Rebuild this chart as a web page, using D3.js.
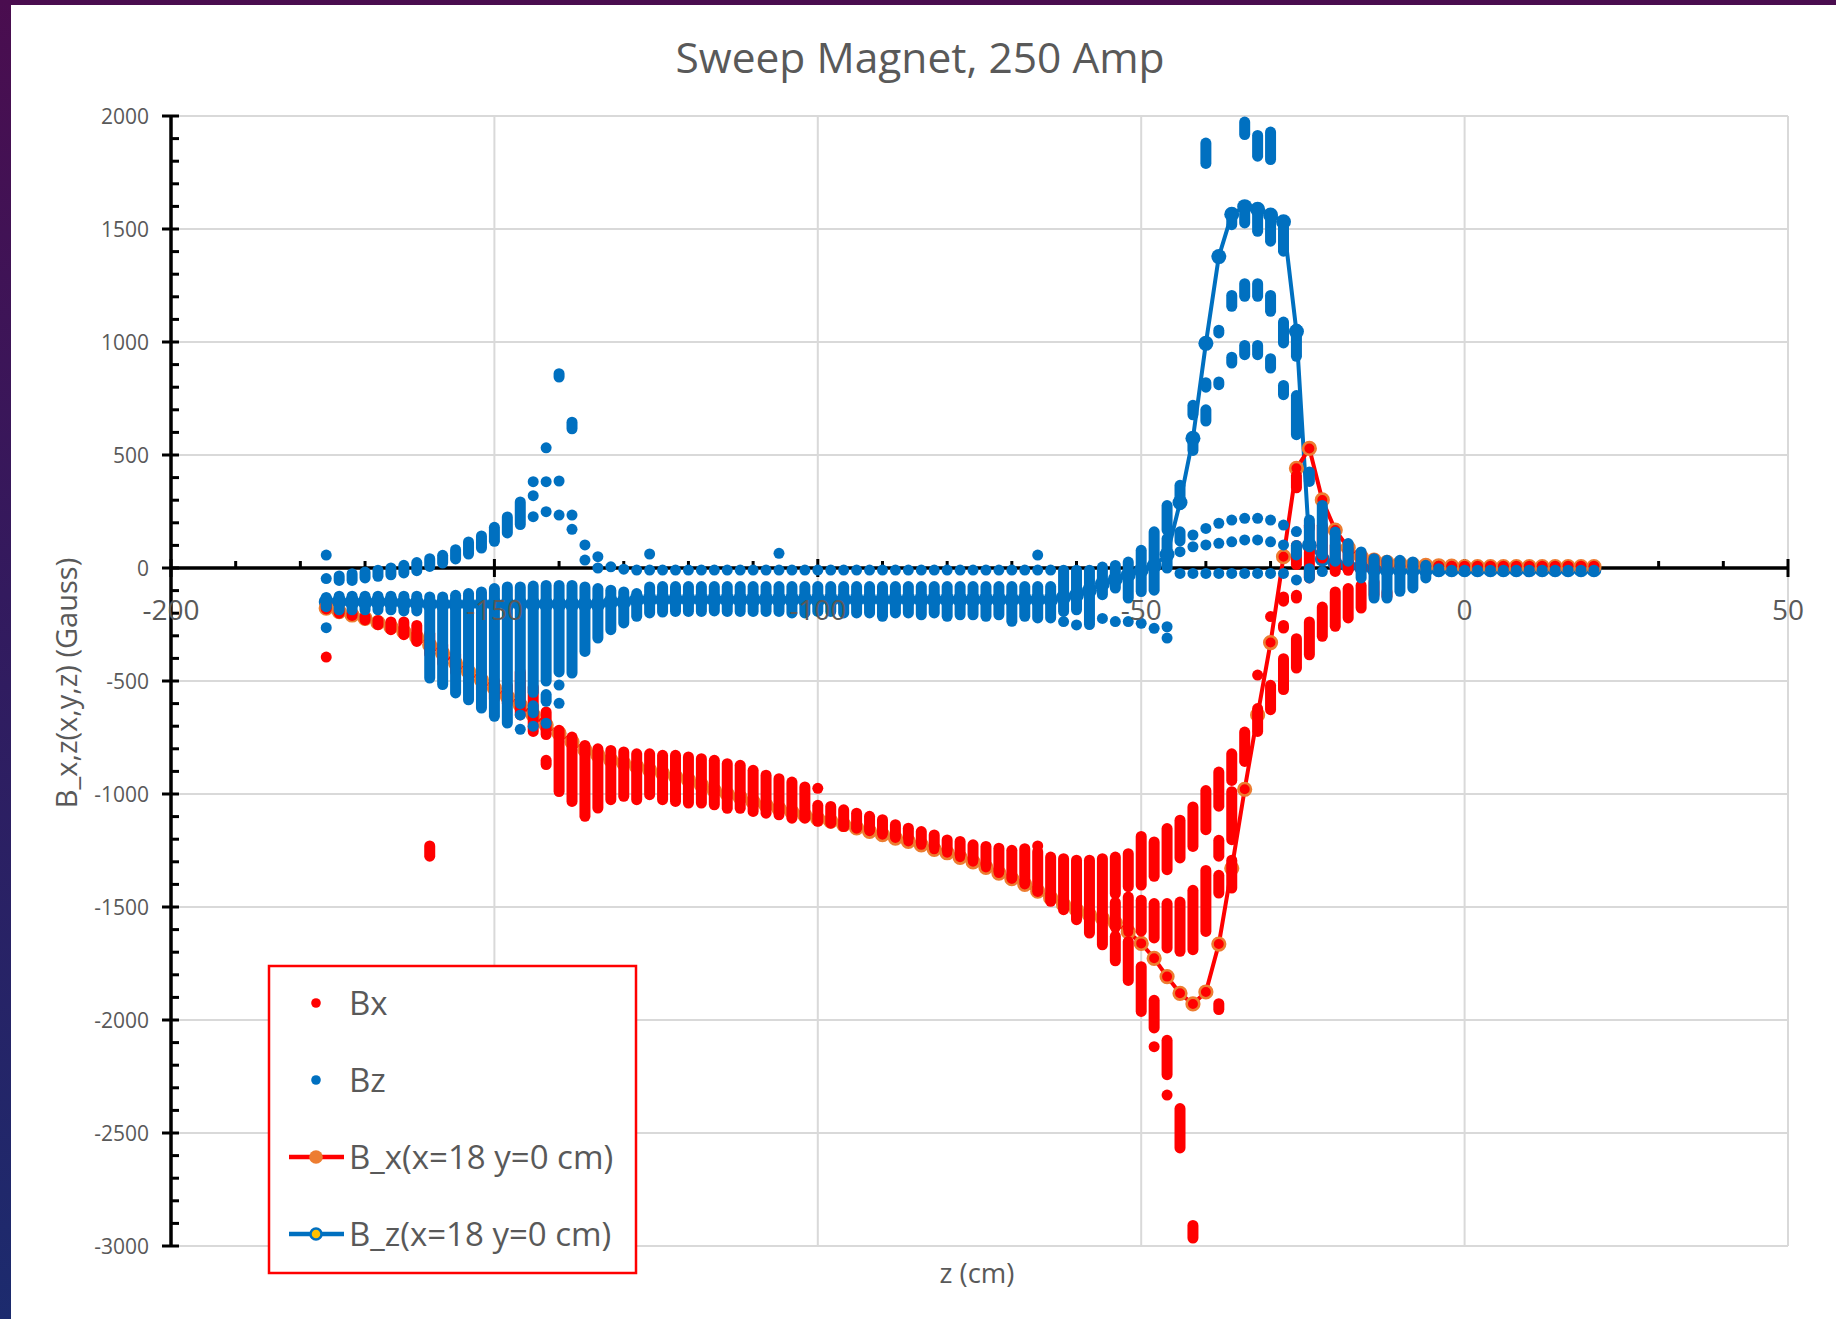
<!DOCTYPE html>
<html><head><meta charset="utf-8">
<script src="https://cdn.jsdelivr.net/npm/d3@7"></script>
<style>
html,body{margin:0;padding:0;}
body{width:1836px;height:1319px;overflow:hidden;background:linear-gradient(180deg,#4a0d4f 0%,#331a5e 45%,#1c2b6e 100%);}
svg{display:block;font-family:"Open Sans",sans-serif;}
</style></head><body>
<svg id="chart" width="1836" height="1319"></svg>
<script>
// ---------------- DATA ----------------
const title = "Sweep Magnet, 250 Amp";
const xLabel = "z (cm)";
const yLabel = "B_x,z(x,y,z) (Gauss)";
const xTicks = [-200, -150, -100, -50, 0, 50];
const yTicks = [2000, 1500, 1000, 500, 0, -500, -1000, -1500, -2000, -2500, -3000];
const legendLabels = ["Bx", "Bz", "B_x(x=18 y=0 cm)", "B_z(x=18 y=0 cm)"];

// Scatter columns: [z, value] single dot or [z, from, to] run of overlapping dots
const bzDots = [
[-176,57],[-176,-47],[-176,-130,-171],[-176,-264],
[-174,-35,-55],[-174,-125,-185],[-172,-25,-55],[-172,-125,-185],
[-170,-18,-44],[-170,-125,-185],[-168,-10,-37],[-168,-125,-185],
[-166,0,-30],[-166,-125,-185],[-164,12,-22],[-164,-125,-190],
[-162,24,-12],[-162,-125,-190],[-160,41,7],[-160,-128,-487],
[-158,56,22],[-158,-128,-516],[-156,81,40],[-156,-121,-553],
[-154,115,62],[-154,-113,-583],[-152,142,88],[-152,-106,-620],
[-150,180,118],[-150,-91,-656],[-148,226,155],[-148,-84,-686],
[-146,292,192],[-146,-84,-600],[-146,-650],[-146,-714],
[-144,382],[-144,320],[-144,227],[-144,-80,-550],[-144,-610,-640],[-144,-700],
[-142,532],[-142,382],[-142,249],[-142,-77,-500],[-142,-560,-590],[-142,-687],
[-140,845,860],[-140,385],[-140,234],[-140,-77,-460],[-140,-518],[-140,-599],
[-138,616,645],[-138,234],[-138,171],[-138,-77,-465],
[-136,102],[-136,35],[-136,-84,-369],
[-134,50],[-134,0],[-134,-91,-310],
[-132,5],[-132,-98,-273],[-130,-5],[-130,-106,-243],
[-128,-9],[-128,-113,-214],[-126,62],[-126,-9],[-126,-84,-199],
[-124,-9],[-124,-82,-195],[-122,-9],[-122,-82,-192],[-120,-9],[-120,-82,-192],
[-118,-9],[-118,-82,-192],[-116,-9],[-116,-82,-190],[-114,-9],[-114,-82,-192],
[-112,-9],[-112,-82,-192],[-110,-9],[-110,-82,-192],[-108,-9],[-108,-82,-192],
[-106,65],[-106,-9],[-106,-82,-192],[-104,-9],[-104,-82,-199],[-102,-9],[-102,-82,-199],
[-100,-9],[-100,-82,-192],[-98,-9],[-98,-82,-192],[-96,-9],[-96,-82,-199],
[-94,-9],[-94,-82,-199],[-92,-9],[-92,-82,-199],[-90,-9],[-90,-82,-214],
[-88,-9],[-88,-82,-199],[-86,-9],[-86,-82,-199],[-84,-9],[-84,-82,-207],
[-82,-9],[-82,-82,-199],[-80,-9],[-80,-82,-214],[-78,-9],[-78,-82,-207],
[-76,-9],[-76,-82,-207],[-74,-9],[-74,-82,-214],[-72,-9],[-72,-82,-207],
[-70,-9],[-70,-82,-236],[-68,-9],[-68,-82,-214],[-66,57],[-66,-9],[-66,-82,-221],
[-64,-9],[-64,-82,-221],
[-62,-10,-192],[-62,-237],[-60,-10,-185],[-60,-252],[-58,-10,-250],
[-56,4,-118],[-56,-223],[-54,11,-89],[-54,-237],[-52,26,-133],[-52,-237],
[-50,78,-104],[-50,-245],[-48,160,-98],[-48,-267],[-46,276,168],[-46,130,0],[-46,-260],[-46,-310],
[-44,280,366],[-44,120,160],[-44,72],[-44,-24],
[-42,678,720],[-42,520,580],[-42,146],[-42,94],[-42,-24],
[-40,1790,1880],[-40,800,820],[-40,650,700],[-40,175],[-40,102],[-40,-24],
[-38,1040,1052],[-38,811,823],[-38,198],[-38,109],[-38,-24],
[-36,1519,1560],[-36,1158,1206],[-36,907,933],[-36,212],[-36,116],[-36,-24],
[-34,1918,1973],[-34,1527,1589],[-34,1202,1258],[-34,944,985],[-34,220],[-34,124],[-34,-24],
[-32,1822,1914],[-32,1490,1582],[-32,1202,1258],[-32,944,985],[-32,220],[-32,124],[-32,-24],
[-30,1807,1929],[-30,1446,1553],[-30,1136,1206],[-30,885,926],[-30,212],[-30,116],[-30,-24],
[-28,1402,1531],[-28,996,1088],[-28,767,808],[-28,190],[-28,102],[-28,-24],
[-26,937,1058],[-26,590,763],[-26,161],[-26,58,100],[-26,-53],
[-24,383,425],[-24,94,212],[-24,-3,-44],
[-22,59,277],[-22,-16],[-20,30,159],[-18,30,108],[-16,-44,71],[-14,-133,41],[-12,-133,34],
[-10,-103,34],[-8,-88,27],[-6,-44,12],[-4,-3,-15],
[-2,-10],[0,-10],[2,-10],[4,-10],[6,-10],[8,-10],[10,-10],[12,-10],[14,-10],[16,-10],[18,-10],[20,-10]
];

const bxDots = [
[-176,-160,-181],[-176,-394],[-174,-190,-200],[-172,-200,-210],[-170,-215,-230],
[-168,-232,-251],[-166,-239,-273],[-164,-239,-295],[-162,-254,-325],
[-160,-290,-380],[-160,-1230,-1275],[-158,-340,-420],[-156,-380,-460],[-154,-420,-500],
[-152,-460,-540],[-150,-500,-580],[-148,-520,-600],[-146,-460,-650],[-144,-527,-723],
[-142,-637,-737],[-142,-851,-870],[-140,-718,-989],[-138,-748,-1033],[-136,-785,-1099],
[-134,-800,-1062],[-132,-807,-1025],[-130,-814,-1010],[-128,-822,-1025],[-126,-822,-1003],
[-124,-829,-1025],[-122,-829,-1033],[-120,-836,-1040],[-118,-844,-1040],[-116,-851,-1048],
[-114,-866,-1063],[-112,-873,-1063],[-110,-895,-1077],[-108,-917,-1085],[-106,-932,-1092],
[-104,-947,-1107],[-102,-969,-1107],[-100,-975],[-100,-1050,-1121],[-98,-1055,-1129],
[-96,-1070,-1144],[-94,-1085,-1151],[-92,-1099,-1159],[-90,-1114,-1173],[-88,-1136,-1188],
[-86,-1151,-1195],[-84,-1166,-1217],[-82,-1181,-1232],[-80,-1203,-1247],[-78,-1210,-1269],
[-76,-1225,-1291],[-74,-1232,-1313],[-72,-1240,-1343],[-70,-1249,-1372],[-68,-1242,-1394],
[-66,-1230],[-66,-1255,-1431],[-64,-1279,-1475],[-62,-1286,-1512],[-60,-1293,-1556],
[-58,-1293,-1615],[-56,-1286,-1667],
[-54,-1279,-1441],[-54,-1480,-1590],[-54,-1629,-1738],
[-52,-1264,-1410],[-52,-1456,-1594],[-52,-1653,-1825],
[-50,-1188,-1403],[-50,-1470,-1607],[-50,-1764,-1962],
[-48,-1212,-1364],[-48,-1485,-1637],[-48,-1913,-2035],[-48,-2118],
[-46,-1153,-1335],[-46,-1485,-1681],[-46,-2090,-2242],[-46,-2332],
[-44,-1116,-1283],[-44,-1478,-1696],[-44,-2392,-2566],
[-42,-1057,-1232],[-42,-1426,-1689],[-42,-2909,-2965],
[-40,-985,-1158],[-40,-1338,-1608],
[-38,-903,-1054],[-38,-1205,-1275],[-38,-1360,-1438],[-38,-1928,-1954],
[-36,-822,-940],[-36,-990,-1202],[-36,-1293,-1416],
[-34,-726,-856],[-32,-474],[-32,-622,-723],[-30,-215],[-30,-519,-627],
[-28,-401,-538],[-28,-128,-147],[-28,-254,-266],
[-26,-313,-443],[-26,355,409],[-26,15,100],[-26,-121,-133],
[-24,-239,-384],[-24,177,189],[-24,-44,71],
[-22,-173,-302],[-22,44,189],[-20,-106,-258],[-20,-15,100],
[-18,-91,-221],[-18,-10,80],[-16,-77,-177],[-16,-10,60],
[-14,-62,-118],[-14,-10,40],[-12,-106,-125],[-12,0,30],
[-10,8],[-8,8],[-6,8],[-4,8],[-2,8],[0,8],[2,8],[4,8],[6,8],[8,8],[10,8],[12,8],[14,8],[16,8],[18,8],[20,8]
];

const bxLine = [
[-176,-178],[-174,-193],[-172,-208],[-170,-223],[-168,-242],[-166,-260],[-164,-282],[-162,-307],
[-160,-341],[-158,-378],[-156,-422],[-154,-459],[-152,-496],[-150,-532],[-148,-569],[-146,-606],
[-144,-650],[-142,-695],[-140,-732],[-138,-769],[-136,-806],[-134,-828],[-132,-850],[-130,-865],
[-128,-879],[-126,-894],[-124,-909],[-122,-923],[-120,-938],[-118,-960],[-116,-985],[-114,-1000],
[-112,-1015],[-110,-1035],[-108,-1050],[-106,-1065],[-104,-1080],[-102,-1095],[-100,-1110],
[-98,-1120],[-96,-1135],[-94,-1150],[-92,-1165],[-90,-1180],[-88,-1195],[-86,-1210],[-84,-1225],
[-82,-1245],[-80,-1260],[-78,-1280],[-76,-1300],[-74,-1325],[-72,-1350],[-70,-1375],[-68,-1400],
[-66,-1430],[-64,-1460],[-62,-1490],[-60,-1513],[-58,-1535],[-56,-1550],[-54,-1570],[-52,-1610],
[-50,-1661],[-48,-1727],[-46,-1808],[-44,-1882],[-42,-1929],[-40,-1876],[-38,-1664],[-36,-1329],
[-34,-979],[-32,-650],[-30,-330],[-28,50],[-26,441],[-24,529],[-22,301],[-20,168],[-18,90],
[-16,50],[-14,35],[-12,25],[-10,20],[-8,15],[-6,12],[-4,10],[-2,8],[0,6],[2,6],[4,6],[6,6],
[8,6],[10,6],[12,6],[14,6],[16,6],[18,6],[20,6]
];

const bzLine = [
[-176,-150],[-174,-150],[-172,-150],[-170,-150],[-168,-150],[-166,-150],[-164,-155],[-162,-155],
[-160,-160],[-158,-160],[-156,-160],[-154,-160],[-152,-160],[-150,-160],[-148,-160],[-146,-160],
[-144,-160],[-142,-160],[-140,-160],[-138,-160],[-136,-160],[-134,-160],[-132,-150],[-130,-150],
[-128,-140],[-126,-140],[-124,-140],[-122,-140],[-120,-140],[-118,-140],[-116,-140],[-114,-140],
[-112,-140],[-110,-140],[-108,-140],[-106,-140],[-104,-140],[-102,-140],[-100,-140],[-98,-140],
[-96,-140],[-94,-140],[-92,-140],[-90,-140],[-88,-140],[-86,-140],[-84,-140],[-82,-140],
[-80,-140],[-78,-140],[-76,-140],[-74,-140],[-72,-140],[-70,-140],[-68,-140],[-66,-140],
[-64,-140],[-62,-130],[-60,-120],[-58,-100],[-56,-70],[-54,-50],[-52,-30],[-50,-10],[-48,10],
[-46,60],[-44,290],[-42,574],[-40,994],[-38,1378],[-36,1565],[-34,1599],[-32,1587],[-30,1562],
[-28,1532],[-26,1046],[-24,100],[-22,40],[-20,20],[-18,10],[-16,5],[-14,-5],[-12,-8],[-10,-8],
[-8,-8],[-6,-8],[-4,-8],[-2,-8],[0,-8],[2,-8],[4,-8],[6,-8],[8,-8],[10,-8],[12,-8],[14,-8],
[16,-8],[18,-8],[20,-8]
];

// ---------------- DRAW ----------------
const W = 1836, H = 1319;
const RED = "#FF0000", BLUE = "#0070C0", ORANGE = "#ED7D31", GOLD = "#FFC000", GRID = "#D9D9D9", TXT = "#595959";
const svg = d3.select("#chart");
svg.append("rect").attr("x", 11).attr("y", 5).attr("width", W - 11).attr("height", H - 5).attr("fill", "#fff");

const x = d3.scaleLinear().domain([-200, 50]).range([171, 1788]);
const y = d3.scaleLinear().domain([-3000, 2000]).range([1246, 116]);

// title
svg.append("text").attr("x", 920).attr("y", 73).attr("text-anchor", "middle")
  .attr("font-size", 42.5).attr("fill", TXT).text(title);

// gridlines
const grid = svg.append("g");
grid.selectAll("line.v").data(xTicks.filter(d => d !== -200)).join("line")
  .attr("x1", d => x(d)).attr("x2", d => x(d)).attr("y1", y(2000)).attr("y2", y(-3000))
  .attr("stroke", GRID).attr("stroke-width", 2);
grid.selectAll("line.h").data(yTicks).join("line").attr("class", "h")
  .attr("x1", x(-200)).attr("x2", x(50)).attr("y1", d => y(d)).attr("y2", d => y(d))
  .attr("stroke", GRID).attr("stroke-width", 2);

// axis lines and ticks (below the data)
const axes = svg.append("g").attr("stroke", "#000");
axes.append("line").attr("x1", x(-200)).attr("x2", x(-200)).attr("y1", y(2000)).attr("y2", y(-3000)).attr("stroke-width", 3.5);
axes.append("line").attr("x1", x(-200)).attr("x2", x(50)).attr("y1", y(0)).attr("y2", y(0)).attr("stroke-width", 3.5);
const yMinor = [1900,1800,1700,1600,1400,1300,1200,1100,900,800,700,600,400,300,200,100,-100,-200,-300,-400,-600,-700,-800,-900,-1100,-1200,-1300,-1400,-1600,-1700,-1800,-1900,-2100,-2200,-2300,-2400,-2600,-2700,-2800,-2900];
const xMinor = [-190,-180,-170,-160,-140,-130,-120,-110,-90,-80,-70,-60,-40,-30,-20,-10,10,20,30,40];
axes.selectAll("line.ym").data(yMinor).join("line").attr("class", "ym")
  .attr("x1", x(-200)).attr("x2", x(-200) + 8).attr("y1", d => y(d)).attr("y2", d => y(d)).attr("stroke-width", 3);
axes.selectAll("line.yM").data(yTicks).join("line").attr("class", "yM")
  .attr("x1", x(-200) - 9).attr("x2", x(-200) + 8).attr("y1", d => y(d)).attr("y2", d => y(d)).attr("stroke-width", 3);
axes.selectAll("line.xm").data(xMinor).join("line").attr("class", "xm")
  .attr("x1", d => x(d)).attr("x2", d => x(d)).attr("y1", y(0)).attr("y2", y(0) - 7).attr("stroke-width", 3);
axes.selectAll("line.xM").data(xTicks).join("line").attr("class", "xM")
  .attr("x1", d => x(d)).attr("x2", d => x(d)).attr("y1", y(0) - 9).attr("y2", y(0) + 9).attr("stroke-width", 3);

// line series (beneath the scatter)
const lineGen = d3.line().x(d => x(d[0])).y(d => y(d[1]));
svg.append("path").datum(bzLine).attr("d", lineGen).attr("fill", "none").attr("stroke", BLUE).attr("stroke-width", 4).attr("stroke-linejoin", "round");
svg.append("g").selectAll("circle").data(bzLine).join("circle")
  .attr("cx", d => x(d[0])).attr("cy", d => y(d[1])).attr("r", 7.5).attr("fill", BLUE);
svg.append("path").datum(bxLine).attr("d", lineGen).attr("fill", "none").attr("stroke", RED).attr("stroke-width", 4).attr("stroke-linejoin", "round");
svg.append("g").selectAll("circle").data(bxLine).join("circle")
  .attr("cx", d => x(d[0])).attr("cy", d => y(d[1])).attr("r", 6.3).attr("fill", RED)
  .attr("stroke", ORANGE).attr("stroke-width", 2.6);

// scatter clouds
const DOT_R = 5.5;
function drawDots(data, color) {
  const g = svg.append("g");
  g.selectAll("circle").data(data.filter(d => d.length === 2)).join("circle")
    .attr("cx", d => x(d[0])).attr("cy", d => y(d[1])).attr("r", DOT_R).attr("fill", color);
  g.selectAll("line").data(data.filter(d => d.length === 3)).join("line")
    .attr("x1", d => x(d[0])).attr("x2", d => x(d[0]))
    .attr("y1", d => y(d[1])).attr("y2", d => y(d[2]))
    .attr("stroke", color).attr("stroke-width", DOT_R * 2).attr("stroke-linecap", "round");
}
drawDots(bxDots, RED);
drawDots(bzDots, BLUE);

// tick labels (on top)
const labels = svg.append("g").attr("fill", TXT);
labels.selectAll("text.y").data(yTicks).join("text").attr("class", "y")
  .attr("x", 149).attr("y", d => y(d)).attr("dy", "0.36em").attr("text-anchor", "end")
  .attr("font-size", 21).text(d => String(d));
labels.selectAll("text.x").data(xTicks).join("text").attr("class", "x")
  .attr("x", d => x(d)).attr("y", y(0) + 52).attr("text-anchor", "middle")
  .attr("font-size", 28).text(d => String(d));

// axis titles
svg.append("text").attr("transform", "translate(77,683) rotate(-90)").attr("text-anchor", "middle")
  .attr("font-size", 29).attr("fill", TXT).text(yLabel);
svg.append("text").attr("x", 977).attr("y", 1283).attr("text-anchor", "middle")
  .attr("font-size", 27.5).attr("fill", TXT).text(xLabel);

// legend
const lg = svg.append("g");
lg.append("rect").attr("x", 269).attr("y", 966).attr("width", 367).attr("height", 307)
  .attr("fill", "#fff").attr("stroke", RED).attr("stroke-width", 2.5);
const rowsY = [1003, 1080, 1157, 1234];
lg.append("circle").attr("cx", 316).attr("cy", rowsY[0]).attr("r", 4.8).attr("fill", RED);
lg.append("circle").attr("cx", 316).attr("cy", rowsY[1]).attr("r", 4.8).attr("fill", BLUE);
lg.append("line").attr("x1", 289).attr("x2", 344).attr("y1", rowsY[2]).attr("y2", rowsY[2]).attr("stroke", RED).attr("stroke-width", 4.5);
lg.append("circle").attr("cx", 316).attr("cy", rowsY[2]).attr("r", 6.8).attr("fill", ORANGE);
lg.append("line").attr("x1", 289).attr("x2", 344).attr("y1", rowsY[3]).attr("y2", rowsY[3]).attr("stroke", BLUE).attr("stroke-width", 4.5);
lg.append("circle").attr("cx", 316).attr("cy", rowsY[3]).attr("r", 5.5).attr("fill", GOLD).attr("stroke", BLUE).attr("stroke-width", 2.5);
lg.selectAll("text").data(legendLabels).join("text")
  .attr("x", 349).attr("y", (d, i) => rowsY[i] + 12).attr("font-size", 33).attr("fill", TXT).text(d => d);
</script>
</body></html>
